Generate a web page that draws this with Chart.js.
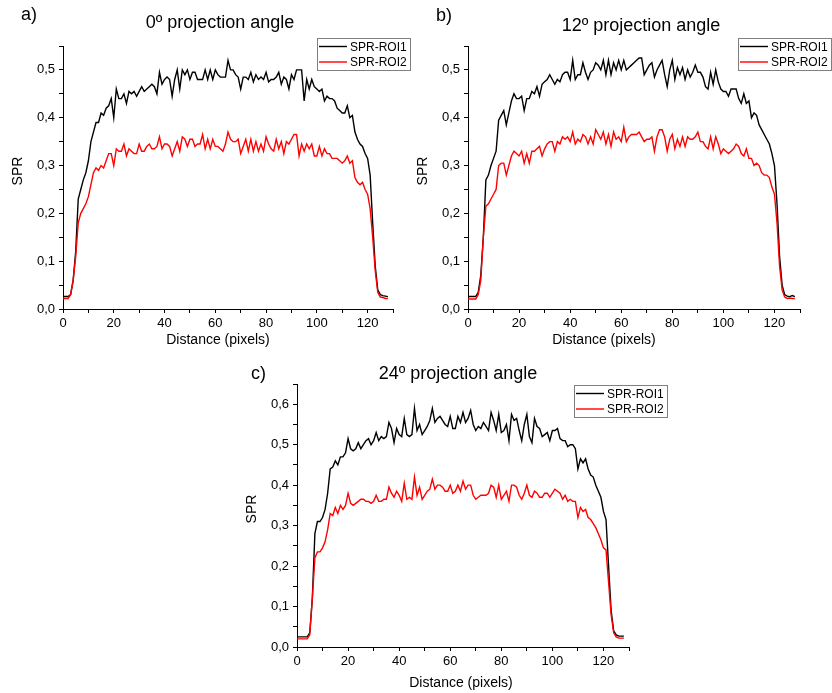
<!DOCTYPE html>
<html>
<head>
<meta charset="utf-8">
<script src="https://cdn.jsdelivr.net/npm/chart.js@4.4.1/dist/chart.umd.min.js"></script>
<style>
  body { margin: 0; background: #fff; }
  #wrap { position: relative; width: 832px; height: 693px; overflow: hidden; }
  canvas { position: absolute; }
</style>
</head>
<body>
<div id="wrap">
  <canvas id="chartA" width="416" height="352" style="left:0px;top:0px"></canvas>
  <canvas id="chartB" width="418" height="352" style="left:414px;top:0px"></canvas>
  <canvas id="chartC" width="450" height="341" style="left:230px;top:352px"></canvas>
</div>
<script>
// x axis: distance in pixels
var distance = [0,1,2,3,4,5,6,7,8,9,10,11,12,13,14,15,16,17,18,19,20,21,22,23,24,25,26,27,28,29,
  30,31,32,33,34,35,36,37,38,39,40,41,42,43,44,45,46,47,48,49,50,51,52,53,54,55,56,57,58,59,
  60,61,62,63,64,65,66,67,68,69,70,71,72,73,74,75,76,77,78,79,80,81,82,83,84,85,86,87,88,89,
  90,91,92,93,94,95,96,97,98,99,100,101,102,103,104,105,106,107,108,109,110,111,112,113,114,115,116,117,118,119,
  120,121,122,123,124,125,126,127,128];

var seriesNames = ["SPR-ROI1", "SPR-ROI2"];
var panelTitles = ["0º projection angle", "12º projection angle", "24º projection angle"];
var panelLetters = ["a)", "b)", "c)"];
var xAxisTitle = "Distance (pixels)";
var yAxisTitle = "SPR";

// a) 0º
var roi1_0 = [0.026,0.026,0.026,0.03,0.06,0.12,0.23,0.25,0.27,0.285,
  0.31,0.35,0.37,0.39,0.39,0.41,0.405,0.42,0.425,0.44,
  0.40,0.46,0.44,0.44,0.45,0.43,0.455,0.45,0.455,0.445,
  0.455,0.465,0.455,0.46,0.465,0.47,0.465,0.45,0.495,0.47,
  0.48,0.485,0.48,0.445,0.48,0.50,0.46,0.50,0.49,0.50,
  0.48,0.495,0.495,0.48,0.48,0.48,0.50,0.48,0.50,0.48,
  0.50,0.49,0.485,0.485,0.485,0.52,0.50,0.50,0.49,0.485,
  0.46,0.485,0.485,0.48,0.495,0.475,0.49,0.48,0.485,0.48,
  0.495,0.475,0.48,0.48,0.485,0.495,0.47,0.485,0.48,0.46,
  0.49,0.48,0.50,0.50,0.50,0.435,0.48,0.46,0.48,0.465,
  0.46,0.455,0.46,0.435,0.445,0.44,0.44,0.435,0.42,0.415,
  0.41,0.41,0.425,0.40,0.405,0.37,0.355,0.345,0.34,0.325,
  0.315,0.28,0.18,0.09,0.04,0.03,0.028,0.027,0.026];
var roi2_0 = [0.022,0.022,0.022,0.03,0.06,0.11,0.18,0.20,0.21,0.22,
  0.235,0.26,0.285,0.295,0.29,0.30,0.295,0.31,0.325,0.325,
  0.30,0.335,0.33,0.33,0.345,0.32,0.335,0.33,0.325,0.325,
  0.345,0.33,0.33,0.34,0.345,0.335,0.335,0.34,0.36,0.335,
  0.345,0.345,0.34,0.32,0.335,0.35,0.33,0.36,0.355,0.34,
  0.355,0.355,0.34,0.345,0.345,0.365,0.335,0.355,0.335,0.355,
  0.34,0.34,0.335,0.33,0.345,0.37,0.355,0.35,0.35,0.355,
  0.325,0.34,0.355,0.33,0.355,0.33,0.35,0.33,0.345,0.33,
  0.36,0.345,0.335,0.33,0.355,0.335,0.35,0.325,0.35,0.345,
  0.355,0.365,0.365,0.32,0.345,0.33,0.345,0.335,0.345,0.32,
  0.32,0.34,0.32,0.335,0.325,0.325,0.315,0.315,0.315,0.31,
  0.305,0.31,0.32,0.305,0.31,0.275,0.265,0.26,0.265,0.25,
  0.24,0.21,0.15,0.08,0.035,0.025,0.024,0.022,0.022];

// b) 12º
var roi1_12 = [0.026,0.026,0.026,0.026,0.035,0.07,0.15,0.27,0.28,0.30,
  0.315,0.33,0.395,0.405,0.415,0.385,0.41,0.435,0.45,0.44,
  0.44,0.445,0.415,0.44,0.44,0.455,0.45,0.465,0.445,0.47,
  0.475,0.48,0.49,0.48,0.47,0.48,0.475,0.49,0.495,0.495,
  0.48,0.52,0.48,0.49,0.49,0.515,0.495,0.48,0.495,0.50,
  0.515,0.51,0.50,0.52,0.49,0.52,0.49,0.515,0.50,0.52,
  0.50,0.52,0.50,0.505,0.51,0.515,0.52,0.525,0.525,0.49,
  0.50,0.51,0.515,0.485,0.50,0.51,0.52,0.49,0.465,0.50,
  0.52,0.48,0.505,0.49,0.505,0.48,0.50,0.485,0.495,0.51,
  0.495,0.495,0.485,0.465,0.46,0.495,0.47,0.50,0.475,0.46,
  0.455,0.455,0.445,0.46,0.46,0.46,0.44,0.43,0.45,0.43,
  0.435,0.40,0.41,0.405,0.385,0.375,0.365,0.355,0.345,0.325,
  0.30,0.22,0.11,0.05,0.03,0.027,0.026,0.028,0.026];
var roi2_12 = [0.021,0.021,0.021,0.021,0.03,0.06,0.15,0.215,0.22,0.23,
  0.24,0.25,0.30,0.305,0.305,0.28,0.30,0.32,0.33,0.325,
  0.32,0.33,0.305,0.325,0.305,0.33,0.33,0.335,0.34,0.32,
  0.335,0.345,0.35,0.35,0.33,0.35,0.345,0.36,0.355,0.36,
  0.35,0.37,0.345,0.355,0.35,0.365,0.36,0.345,0.36,0.345,
  0.375,0.365,0.355,0.37,0.345,0.365,0.34,0.37,0.355,0.36,
  0.35,0.38,0.35,0.36,0.365,0.365,0.365,0.37,0.36,0.35,
  0.355,0.355,0.36,0.33,0.36,0.375,0.375,0.36,0.33,0.355,
  0.365,0.335,0.355,0.34,0.36,0.34,0.36,0.355,0.355,0.36,
  0.37,0.35,0.35,0.34,0.335,0.36,0.335,0.36,0.345,0.325,
  0.335,0.33,0.325,0.33,0.335,0.345,0.34,0.325,0.32,0.335,
  0.315,0.315,0.30,0.305,0.30,0.285,0.28,0.28,0.275,0.255,
  0.24,0.18,0.09,0.04,0.025,0.022,0.023,0.022,0.022];

// c) 24º
var roi1_24 = [0.025,0.025,0.025,0.025,0.025,0.035,0.12,0.28,0.31,0.31,
  0.32,0.34,0.38,0.44,0.445,0.46,0.45,0.47,0.47,0.48,
  0.515,0.49,0.485,0.49,0.505,0.49,0.50,0.51,0.515,0.50,
  0.51,0.53,0.51,0.52,0.515,0.52,0.555,0.54,0.505,0.54,
  0.525,0.52,0.565,0.525,0.52,0.525,0.59,0.535,0.55,0.525,
  0.535,0.545,0.56,0.59,0.555,0.565,0.57,0.56,0.55,0.545,
  0.57,0.54,0.54,0.57,0.555,0.58,0.555,0.565,0.585,0.55,
  0.535,0.545,0.54,0.555,0.545,0.535,0.58,0.56,0.535,0.575,
  0.53,0.535,0.55,0.51,0.575,0.56,0.565,0.535,0.51,0.55,
  0.575,0.52,0.505,0.565,0.545,0.54,0.52,0.525,0.53,0.51,
  0.535,0.535,0.54,0.515,0.51,0.51,0.495,0.50,0.50,0.49,
  0.44,0.465,0.455,0.465,0.44,0.425,0.42,0.40,0.385,0.37,
  0.335,0.315,0.20,0.09,0.04,0.03,0.027,0.027,0.027];
var roi2_24 = [0.02,0.02,0.02,0.02,0.02,0.03,0.12,0.22,0.235,0.235,
  0.245,0.26,0.29,0.33,0.325,0.345,0.33,0.35,0.34,0.35,
  0.38,0.355,0.35,0.355,0.36,0.365,0.365,0.36,0.36,0.355,
  0.36,0.375,0.36,0.36,0.365,0.365,0.395,0.38,0.37,0.385,
  0.375,0.36,0.405,0.365,0.37,0.365,0.42,0.375,0.395,0.365,
  0.375,0.385,0.39,0.415,0.39,0.40,0.40,0.395,0.385,0.385,
  0.40,0.38,0.385,0.40,0.385,0.41,0.39,0.40,0.40,0.375,
  0.365,0.37,0.375,0.375,0.375,0.38,0.40,0.395,0.37,0.40,
  0.365,0.375,0.385,0.36,0.40,0.40,0.395,0.375,0.365,0.38,
  0.40,0.375,0.37,0.385,0.38,0.37,0.37,0.38,0.38,0.37,
  0.38,0.39,0.385,0.38,0.365,0.375,0.36,0.365,0.36,0.36,
  0.32,0.345,0.335,0.34,0.32,0.315,0.305,0.295,0.28,0.265,
  0.245,0.24,0.16,0.08,0.035,0.025,0.022,0.022,0.022];

Chart.defaults.font.family = '"Liberation Sans", Arial, sans-serif';
Chart.defaults.color = '#000';

// Draws panel letter, titles and the boxed legend
var panelText = {
  id: 'panelText',
  afterDraw: function(chart, args, o) {
    var ctx = chart.ctx;
    ctx.save();
    ctx.fillStyle = '#000';
    ctx.font = '18px "Liberation Sans", Arial, sans-serif';
    ctx.textBaseline = 'alphabetic';
    ctx.textAlign = 'left';
    ctx.fillText(o.letter, o.letterX, o.letterY);
    ctx.textAlign = 'center';
    ctx.fillText(o.title, o.titleX, o.titleY);

    // axis titles
    ctx.font = '14px "Liberation Sans", Arial, sans-serif';
    ctx.textBaseline = 'middle';
    ctx.fillText(xAxisTitle, o.xTitleX, o.xTitleY);
    ctx.save();
    ctx.translate(o.yTitleX, o.yTitleY);
    ctx.rotate(-Math.PI / 2);
    ctx.fillText(yAxisTitle, 0, 0);
    ctx.restore();

    // legend
    var lx = o.legendX, ly = o.legendY;
    ctx.strokeStyle = '#808080';
    ctx.lineWidth = 1;
    ctx.strokeRect(lx + 0.5, ly + 0.5, 93, 32);
    ctx.font = '12px "Liberation Sans", Arial, sans-serif';
    ctx.textAlign = 'left';
    ctx.textBaseline = 'middle';
    chart.data.datasets.forEach(function(ds, i) {
      var y = ly + 8.5 + i * 15.5;
      ctx.strokeStyle = ds.borderColor;
      ctx.lineWidth = 1.4;
      ctx.beginPath();
      ctx.moveTo(lx + 2, y);
      ctx.lineTo(lx + 30, y);
      ctx.stroke();
      ctx.fillText(ds.label, lx + 33, y + 1);
    });
    ctx.restore();
  }
};

function buildChart(id, ys1, ys2, ymax, cfg) {
  var pts = function(arr) {
    return distance.map(function(x, i) { return {x: x, y: arr[i]}; });
  };
  return new Chart(document.getElementById(id), {
    type: 'line',
    data: {
      datasets: [
        {label: seriesNames[0], data: pts(ys1), borderColor: '#000000', borderWidth: 1.4, pointRadius: 0, tension: 0, order: 2},
        {label: seriesNames[1], data: pts(ys2), borderColor: '#ff0000', borderWidth: 1.4, pointRadius: 0, tension: 0, order: 1}
      ]
    },
    options: {
      responsive: false,
      animation: false,
      events: [],
      layout: {padding: cfg.pad},
      plugins: {
        legend: {display: false},
        tooltip: {enabled: false},
        panelText: cfg.text
      },
      scales: {
        x: {
          type: 'linear',
          min: 0, max: 130,
          afterFit: function(s) { s.height = cfg.xH; },
          border: {color: '#000', width: 1},
          grid: {drawOnChartArea: false, tickLength: 4, color: '#000'},
          ticks: {
            stepSize: 10, autoSkip: false, maxRotation: 0, padding: 3,
            font: {size: 13},
            callback: function(v) { return (v % 20 === 0 && v <= 120) ? String(v) : ''; }
          }
        },
        y: {
          type: 'linear',
          min: 0, max: ymax,
          afterFit: function(s) { s.width = cfg.yW; },
          border: {color: '#000', width: 1},
          grid: {drawOnChartArea: false, tickLength: 4, color: '#000'},
          ticks: {
            stepSize: 0.05, autoSkip: false, padding: 4,
            font: {size: 13},
            callback: function(v) {
              return Math.round(v * 100) % 10 === 0 ? v.toFixed(1).replace('.', ',') : '';
            }
          }
        }
      }
    },
    plugins: [panelText]
  });
}

buildChart('chartA', roi1_0, roi2_0, 0.55, {
  pad: {left: 0, top: 46, right: 23, bottom: 0}, yW: 63, xH: 43,
  text: {letter: panelLetters[0], letterX: 21, letterY: 20, title: panelTitles[0], titleX: 220, titleY: 28,
         xTitleX: 218, xTitleY: 340, yTitleX: 18, yTitleY: 171, legendX: 317, legendY: 38}
});
buildChart('chartB', roi1_12, roi2_12, 0.55, {
  pad: {left: 0, top: 46, right: 32, bottom: 0}, yW: 54, xH: 43,
  text: {letter: panelLetters[1], letterX: 22, letterY: 21, title: panelTitles[1], titleX: 227, titleY: 31,
         xTitleX: 190, xTitleY: 340, yTitleX: 9, yTitleY: 171, legendX: 324, legendY: 38}
});
buildChart('chartC', roi1_24, roi2_24, 0.65, {
  pad: {left: 0, top: 32, right: 51, bottom: 0}, yW: 67, xH: 46,
  text: {letter: panelLetters[2], letterX: 21, letterY: 27, title: panelTitles[2], titleX: 228, titleY: 27,
         xTitleX: 231, xTitleY: 331, yTitleX: 22, yTitleY: 157, legendX: 344, legendY: 33}
});
</script>
</body>
</html>
